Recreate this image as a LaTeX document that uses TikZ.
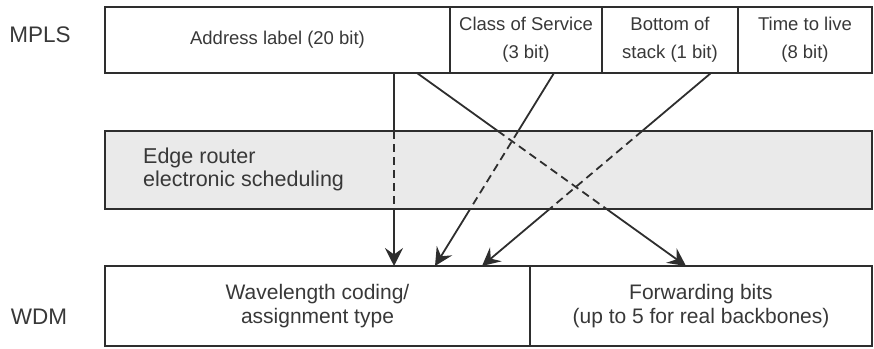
\documentclass[tikz,border=0pt]{standalone}
\usepackage{fontspec}
\setmainfont{Liberation Sans}
\usetikzlibrary{arrows.meta,calc}
\definecolor{linec}{HTML}{2E2E2E}
\definecolor{textc}{HTML}{383838}
\definecolor{fillc}{HTML}{EAEAEA}
\begin{document}
\begin{tikzpicture}[x=1pt,y=-1pt,
  box/.style={draw=linec, line width=2.8pt, inner sep=0pt, outer sep=0pt,
    anchor=north west, align=center, text=textc},
  topfield/.style={box, minimum height=66pt, font=\fontsize{18.5}{28}\selectfont},
  botfield/.style={box, minimum height=80pt, font=\fontsize{21}{24.5}\selectfont},
  rowlabel/.style={text=textc, font=\fontsize{22.5}{26}\selectfont, inner sep=0pt},
  conn/.style={draw=linec, line width=1.8pt},
  dashconn/.style={conn, dash pattern=on 8pt off 5pt},
  tip/.style={-{Stealth[length=18pt,width=18pt,inset=6.5pt]}}]
\useasboundingbox (0,0) rectangle (874,348);

% row labels
\node[rowlabel] (mpls) at (40,34.5) {MPLS};
\node[rowlabel] (wdm) at (39,316.5) {WDM};

% MPLS fields
\node[topfield, minimum width=345pt] (addr) at (105,7) {Address label (20 bit)};
\node[topfield, minimum width=152pt] (cos) at (450,7) {Class of Service\\(3 bit)};
\node[topfield, minimum width=136pt] (bos) at (602,7) {Bottom of\\stack (1 bit)};
\node[topfield, minimum width=134pt] (ttl) at (738,7) {Time to live\\(8 bit)};

% edge router
\node[box, fill=fillc, minimum width=767pt, minimum height=78pt] (mid) at (105,131) {};
\node[anchor=north west, align=left, inner sep=0pt, text=textc,
  font=\fontsize{21.5}{23}\selectfont] (midtext) at (143,148) {Edge router\\electronic scheduling};

% WDM fields
\node[botfield, minimum width=425pt] (wl) at (105,266) {Wavelength coding/\\assignment type};
\node[botfield, minimum width=342pt] (fw) at (530,266) {Forwarding bits\\(up to 5 for real backbones)};

% connector end points
\coordinate (s1) at ([xshift=289pt]addr.south west);
\coordinate (s2) at ([xshift=312pt]addr.south west);
\coordinate (s3) at ([xshift=104pt]cos.south west);
\coordinate (s4) at ([xshift=109pt]bos.south west);
\coordinate (t1) at ([xshift=289pt]wl.north west);
\coordinate (t2) at ([xshift=156pt]fw.north west);
\coordinate (t3) at ([xshift=330pt]wl.north west);
\coordinate (t4) at ([xshift=377pt]wl.north west);

\foreach \s/\t in {s1/t1, s2/t2, s3/t3, s4/t4} {
  \draw[conn] (\s) -- ($(\s)!0.3005!(\t)$);
  \draw[dashconn] ($(\s)!0.3005!(\t)$) -- ($(\s)!0.7047!(\t)$);
  \draw[conn, tip] ($(\s)!0.7047!(\t)$) -- (\t);
}
\end{tikzpicture}
\end{document}
